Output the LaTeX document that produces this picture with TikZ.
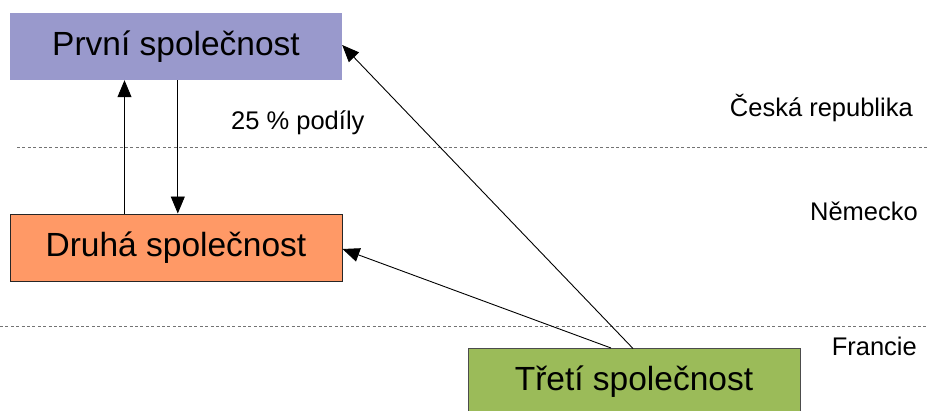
\documentclass[tikz,border=0pt]{standalone}
\usepackage{fontspec}
\setmainfont{Liberation Sans}
\usetikzlibrary{arrows.meta}
\definecolor{firmpurple}{HTML}{9999CC}
\definecolor{firmorange}{HTML}{FF9966}
\definecolor{firmgreen}{HTML}{9BBB59}
\begin{document}
\begin{tikzpicture}[x=1pt,y=-1pt,
  firm/.style={minimum width=332pt,minimum height=67pt,inner sep=0pt,
    font=\fontsize{33.5}{40}\selectfont},
  region/.style={font=\fontsize{25.5}{30}\selectfont,inner sep=0pt},
  border/.style={draw=black!55,dash pattern=on 3pt off 2.4pt,line width=0.8pt},
  link/.style={draw=black,line width=0.9pt,-{Triangle[length=17pt,width=14pt]}}]
\useasboundingbox (0,0) rectangle (927,410);
\begin{scope}
\clip (0,0) rectangle (927,410);
% country borders
\coordinate (b1l) at (17,147);
\coordinate (b1r) at (927,147);
\coordinate (b2l) at (0,326);
\coordinate (b2r) at (927,326);
\draw[border] (b1l) -- (b1r);
\draw[border] (b2l) -- (b2r);
% companies
\node[firm,fill=firmpurple] (prvni) at (176,46.5) {První společnost};
\node[firm,fill=firmorange,draw=black!85,line width=1pt] (druha) at (176,247.5) {Druhá společnost};
\node[firm,fill=firmgreen,draw=black!70,line width=1pt] (treti) at (634,382) {Třetí společnost};
% ownership links
\draw[link] (druha.south west |- druha.north) ++(115,0) coordinate (d1) -- (d1 |- prvni.south);
\draw[link] (prvni.south west) ++(168,0) coordinate (p1) -- (p1 |- druha.north);
\coordinate (t1) at (633,348.5);
\coordinate (t2) at (611,348);
\draw[link] (t1) -- (prvni.east |- 0,45);
\draw[link] (t2) -- (druha.east |- 0,249);
% labels
\node[region,anchor=base west] (podily) at (231,129) {25 \% podíly};
\node[region,anchor=base east] (cr) at (913,116) {Česká republika};
\node[region,anchor=base east] (de) at (918,220) {Německo};
\node[region,anchor=base east] (fr) at (917,355) {Francie};
\end{scope}
\end{tikzpicture}
\end{document}
